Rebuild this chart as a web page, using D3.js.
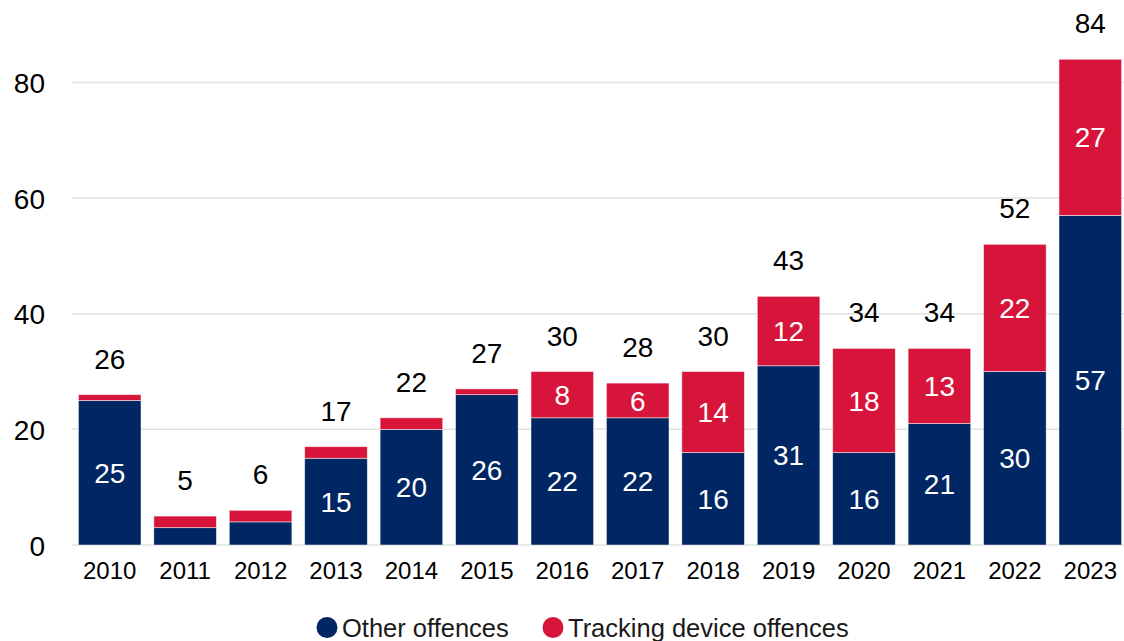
<!DOCTYPE html>
<html>
<head>
<meta charset="utf-8">
<script src="https://cdn.jsdelivr.net/npm/d3@7"></script>
<style>
  html, body { margin: 0; padding: 0; background: #fff; }
  svg { display: block; font-family: "Liberation Sans", Arial, sans-serif; }
</style>
</head>
<body>
<svg id="chart" width="1124" height="641"></svg>
<script>
// Offences by year, split into two stacked series
const years = ["2010","2011","2012","2013","2014","2015","2016","2017","2018","2019","2020","2021","2022","2023"];
const otherOffences = [25, 3, 4, 15, 20, 26, 22, 22, 16, 31, 16, 21, 30, 57];
const trackingOffences = [1, 2, 2, 2, 2, 1, 8, 6, 14, 12, 18, 13, 22, 27];
const yTicks = [0, 20, 40, 60, 80];
const seriesNames = ["Other offences", "Tracking device offences"];
const seriesColors = ["#002664", "#D7153A"];

const svg = d3.select("#chart");
const W = 1124, H = 641;

const rows = years.map((y, i) => ({ year: y, other: otherOffences[i], tracking: trackingOffences[i] }));
const keys = ["other", "tracking"];
const stacked = d3.stack().keys(keys)(rows);

const x = d3.scaleBand()
  .domain(years)
  .range([72, 1128])
  .paddingInner(0.17)
  .paddingOuter(0.085);

const y = d3.scaleLinear()
  .domain([0, 80])
  .range([545, 82.4]);

const color = d3.scaleOrdinal().domain(keys).range(seriesColors);

// Gridlines
svg.append("g")
  .selectAll("line")
  .data(yTicks)
  .join("line")
  .attr("x1", 72)
  .attr("x2", W)
  .attr("y1", d => y(d))
  .attr("y2", d => y(d))
  .attr("stroke", "#e2e2e2")
  .attr("stroke-width", 1.5);

// Y axis labels
const yAxis = d3.axisLeft(y).tickValues(yTicks).tickSize(0).tickPadding(0);
const gy = svg.append("g").attr("transform", "translate(45,0)").call(yAxis);
gy.select(".domain").remove();
gy.selectAll("text")
  .attr("font-size", 28)
  .attr("font-family", "Liberation Sans, Arial, sans-serif")
  .attr("fill", "#000")
  .attr("dy", "0.36em");

// X axis labels
const xAxis = d3.axisBottom(x).tickSize(0).tickPadding(0);
const gx = svg.append("g").attr("transform", "translate(0,562)").call(xAxis);
gx.select(".domain").remove();
gx.selectAll("text")
  .attr("font-size", 24)
  .attr("font-family", "Liberation Sans, Arial, sans-serif")
  .attr("fill", "#000")
  .attr("dy", "0.72em");

// Stacked bars
const layers = svg.append("g")
  .selectAll("g")
  .data(stacked)
  .join("g")
  .attr("fill", d => color(d.key));

layers.selectAll("rect")
  .data(d => d)
  .join("rect")
  .attr("x", d => x(d.data.year))
  .attr("width", x.bandwidth())
  .attr("y", d => y(d[1]))
  .attr("height", d => y(d[0]) - y(d[1]))
  .attr("stroke", "#ffffff")
  .attr("stroke-opacity", 0.6)
  .attr("stroke-width", 0.8);

// Segment value labels (shown where the segment is tall enough)
const segLabels = svg.append("g");
stacked.forEach(layer => {
  segLabels.selectAll(null)
    .data(layer.filter(d => (d[1] - d[0]) >= 5))
    .join("text")
    .attr("x", d => x(d.data.year) + x.bandwidth() / 2)
    .attr("y", d => (y(d[0]) + y(d[1])) / 2)
    .attr("dy", "0.36em")
    .attr("text-anchor", "middle")
    .attr("font-size", 28)
    .attr("fill", "#fff")
    .text(d => d[1] - d[0]);
});

// Totals above bars
svg.append("g")
  .selectAll("text")
  .data(rows)
  .join("text")
  .attr("x", d => x(d.year) + x.bandwidth() / 2)
  .attr("y", d => y(d.other + d.tracking) - 26)
  .attr("text-anchor", "middle")
  .attr("font-size", 28)
  .attr("fill", "#000")
  .text(d => d.other + d.tracking);

// Legend
const legendItems = [
  { name: seriesNames[0], color: seriesColors[0], cx: 327, tx: 342 },
  { name: seriesNames[1], color: seriesColors[1], cx: 553, tx: 568 }
];
const legend = svg.append("g");
legend.selectAll("circle")
  .data(legendItems)
  .join("circle")
  .attr("cx", d => d.cx)
  .attr("cy", 627.5)
  .attr("r", 10.5)
  .attr("fill", d => d.color);
legend.selectAll("text")
  .data(legendItems)
  .join("text")
  .attr("x", d => d.tx)
  .attr("y", 636.5)
  .attr("font-size", 25.5)
  .attr("fill", "#1a1a1a")
  .text(d => d.name);
</script>
</body>
</html>
